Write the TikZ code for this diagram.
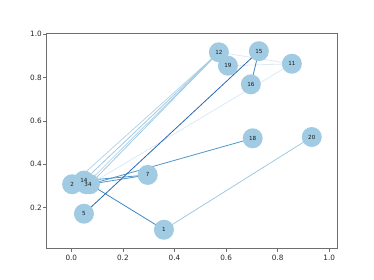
\documentclass[tikz,border=0pt]{standalone}
\usepackage{fontspec}
\setmainfont{DejaVu Sans}
\usetikzlibrary{positioning}

\definecolor{nodeblue}{HTML}{A0CBE2}
\definecolor{bluedark}{HTML}{2A68AE}
\definecolor{bluemid}{HTML}{3F86C2}
\definecolor{bluemidl}{HTML}{4F97CA}
\definecolor{bluelight}{HTML}{9FCAE2}
\definecolor{bluelighter}{HTML}{B7D5EA}
\definecolor{bluepale}{HTML}{DCEAF6}
\definecolor{axisgray}{HTML}{6E6E6E}

\begin{document}
\begin{tikzpicture}[
    x=258pt, y=216.7pt,
    vertex/.style={circle, fill=nodeblue, minimum size=20pt, inner sep=0pt},
    vlabel/.style={font=\fontsize{5.6}{5.6}\selectfont, text=black!90, inner sep=0pt},
    edge/.style={line width=0.8pt},
    ticklabel/.style={font=\fontsize{7.3}{7.3}\selectfont, text=black!85, inner sep=0pt},
    spine/.style={draw=axisgray, line width=0.9pt}
]
\useasboundingbox (-0.2764,-0.1338) rectangle (1.1733,1.1583);

% axes
\draw[spine] (-0.0954,0.0106) rectangle (1.031,1.0046);
\foreach \t in {0.0,0.2,0.4,0.6,0.8,1.0} {
    \draw[axisgray, line width=0.6pt] (\t,0.0106) -- ++(0,-3.5pt);
    \node[ticklabel] (xt\t) at (\t,-0.030) {\t};
}
\foreach \t in {0.2,0.4,0.6,0.8,1.0} {
    \draw[axisgray, line width=0.6pt] (-0.0954,\t) -- ++(-3.5pt,0);
    \node[ticklabel, anchor=east] (yt\t) at (-0.1136,\t) {\t};
}

% coordinates of the vertices
\coordinate (p1) at (0.359,0.098);
\coordinate (p2) at (0.003,0.308);
\coordinate (p3) at (0.058,0.308);
\coordinate (p4) at (0.072,0.308);
\coordinate (p5) at (0.049,0.172);
\coordinate (p7) at (0.296,0.351);
\coordinate (p11) at (0.855,0.864);
\coordinate (p12) at (0.572,0.917);
\coordinate (p14) at (0.049,0.325);
\coordinate (p15) at (0.727,0.922);
\coordinate (p16) at (0.696,0.769);
\coordinate (p18) at (0.703,0.520);
\coordinate (p19) at (0.607,0.855);
\coordinate (p20) at (0.932,0.526);

% edges
\draw[edge, bluepale] (p4) -- (p11);
\draw[edge, bluepale] (p12) -- (p11);
\draw[edge, bluepale] (p19) -- (p11);
\draw[edge, bluelighter] (p2) -- (p12);
\draw[edge, bluelight] (p14) -- (p12);
\draw[edge, bluelighter] (p3) -- (p12);
\draw[edge, bluelight] (p4) -- (p12);
\draw[edge, bluelight] (p1) -- (p20);
\draw[edge, bluemidl] (p14) -- (p7);
\draw[edge, bluemidl] (p4) -- (p7);
\draw[edge, bluemidl] (p4) -- (p18);
\draw[edge, bluemid] (p4) -- (p1);
\draw[edge, bluemid] (p15) -- (p16);
\draw[edge, bluedark] (p5) -- (p15);

% vertices
\foreach \v in {1,2,3,4,5,7,11,12,14,15,16,18,19,20}
    \node[vertex] (n\v) at (p\v) {};
\foreach \v in {1,2,3,4,5,7,11,12,14,15,16,18,19,20}
    \node[vlabel] (l\v) at (p\v) {\v};
\end{tikzpicture}
\end{document}
